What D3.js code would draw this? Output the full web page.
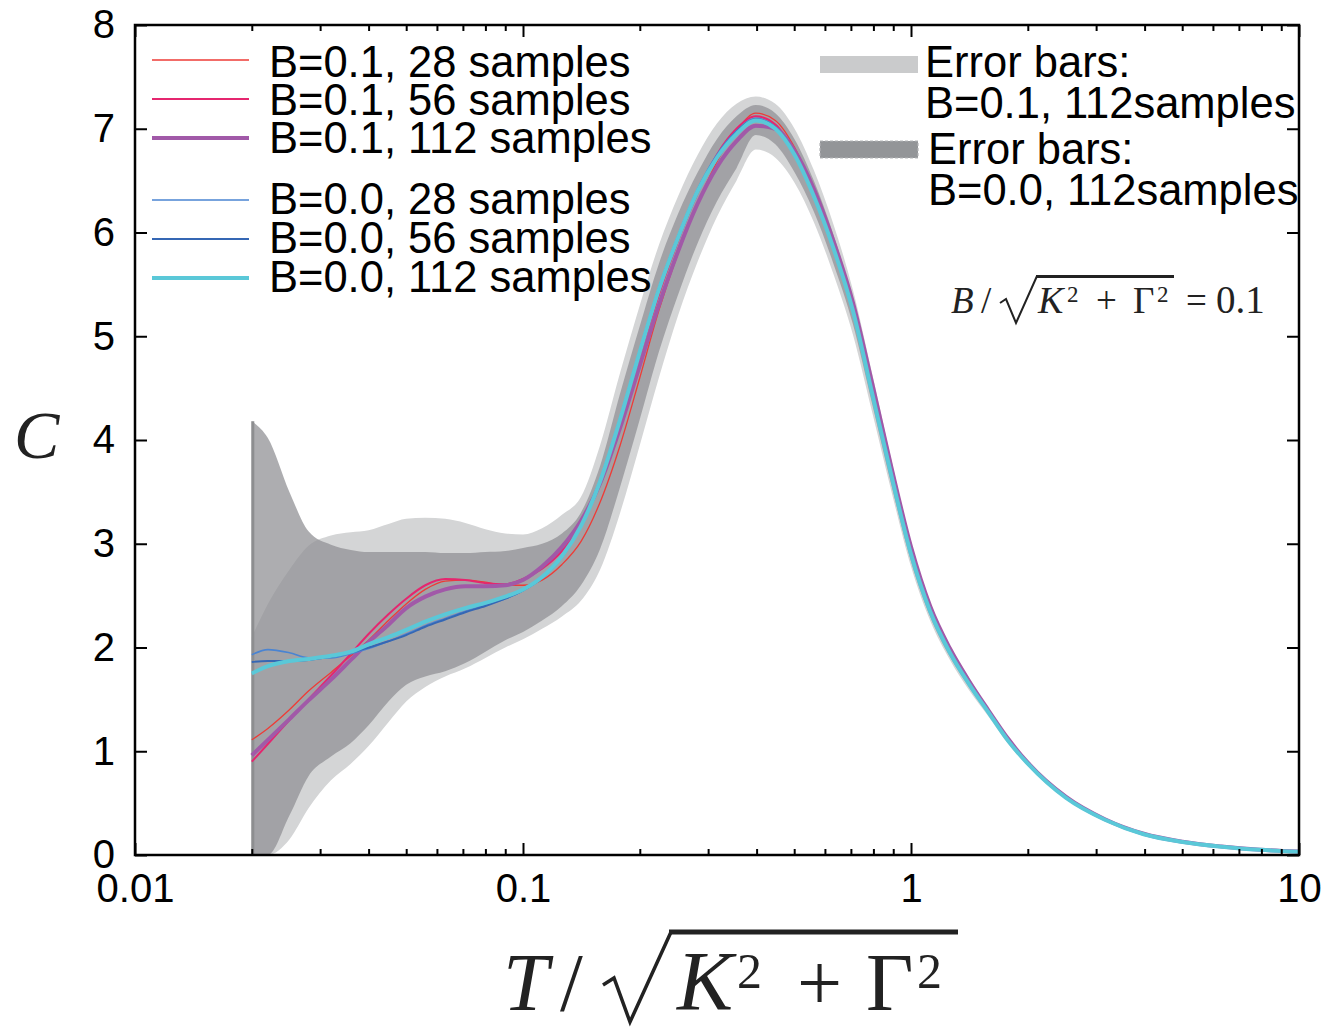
<!DOCTYPE html>
<html><head><meta charset="utf-8">
<script src="https://cdn.jsdelivr.net/npm/d3@7"></script>
<style>body{margin:0;background:#fff}</style>
</head><body>
<svg id="c" width="1332" height="1027"></svg>
<script>
// ---------------- DATA ----------------
const xGrid = [0.02,0.022,0.025,0.028,0.032,0.036,0.04,0.045,0.05,0.056,0.063,0.071,0.08,0.09,0.1,0.112,0.126,0.141,0.158,0.178,0.2,0.224,0.251,0.282,0.316,0.355,0.398,0.447,0.501,0.562,0.631,0.708,0.794,0.891,1.0,1.12,1.26,1.41,1.58,1.78,2.0,2.51,3.16,3.98,5.01,6.31,7.94,10];

const b01_28  = [1.11,1.22,1.40,1.58,1.76,1.92,2.07,2.26,2.42,2.56,2.64,2.65,2.63,2.60,2.60,2.65,2.80,3.02,3.40,3.95,4.60,5.25,5.80,6.28,6.68,6.98,7.15,7.08,6.82,6.40,5.88,5.27,4.47,3.67,2.91,2.36,1.96,1.66,1.39,1.11,0.88,0.55,0.34,0.20,0.125,0.08,0.05,0.032];
const b01_56  = [0.90,1.07,1.30,1.50,1.73,1.94,2.13,2.32,2.47,2.60,2.66,2.65,2.62,2.61,2.66,2.76,2.93,3.18,3.58,4.15,4.80,5.40,5.92,6.38,6.75,7.00,7.12,7.04,6.78,6.38,5.87,5.27,4.47,3.67,2.91,2.36,1.96,1.66,1.39,1.11,0.88,0.55,0.34,0.20,0.125,0.08,0.05,0.032];
const b01_112 = [0.96,1.11,1.31,1.49,1.69,1.88,2.05,2.22,2.38,2.49,2.56,2.59,2.59,2.60,2.65,2.78,2.97,3.22,3.58,4.12,4.72,5.30,5.82,6.28,6.63,6.88,7.03,7.00,6.79,6.42,5.92,5.33,4.55,3.73,2.97,2.40,1.99,1.68,1.40,1.12,0.89,0.56,0.345,0.205,0.128,0.082,0.051,0.033];
const b00_28  = [1.93,1.98,1.95,1.90,1.90,1.94,1.99,2.06,2.13,2.21,2.28,2.35,2.41,2.47,2.55,2.67,2.88,3.18,3.62,4.22,4.87,5.47,5.97,6.42,6.75,6.98,7.10,7.02,6.77,6.36,5.86,5.26,4.46,3.66,2.91,2.35,1.95,1.65,1.38,1.10,0.88,0.55,0.34,0.20,0.125,0.08,0.05,0.032];
const b00_56  = [1.86,1.87,1.87,1.88,1.91,1.95,2.00,2.06,2.12,2.20,2.27,2.34,2.40,2.47,2.55,2.67,2.87,3.17,3.60,4.21,4.86,5.46,5.96,6.41,6.73,6.97,7.09,7.01,6.76,6.36,5.86,5.26,4.46,3.66,2.91,2.35,1.95,1.65,1.38,1.10,0.88,0.55,0.34,0.20,0.125,0.08,0.05,0.032];
const b00_112 = [1.75,1.82,1.87,1.89,1.92,1.96,2.03,2.10,2.17,2.25,2.32,2.38,2.43,2.49,2.56,2.68,2.88,3.17,3.60,4.20,4.85,5.45,5.95,6.40,6.72,6.95,7.08,7.00,6.75,6.35,5.85,5.25,4.45,3.65,2.90,2.35,1.95,1.65,1.38,1.10,0.88,0.55,0.34,0.20,0.125,0.08,0.05,0.032];

// error bands (112 samples)
const errB01Upper = [2.10,2.42,2.75,2.98,3.08,3.11,3.13,3.19,3.24,3.25,3.24,3.20,3.14,3.10,3.09,3.15,3.28,3.45,3.95,4.65,5.30,5.88,6.35,6.75,7.05,7.24,7.31,7.24,7.00,6.60,6.08,5.45,4.64,3.80,3.02,2.44,2.02,1.71,1.42,1.13,0.90,0.565,0.35,0.205,0.128,0.082,0.052,0.034];
const errB01Lower = [0,0,0.15,0.45,0.72,0.88,1.05,1.28,1.48,1.62,1.72,1.80,1.90,2.00,2.08,2.18,2.30,2.45,2.75,3.30,3.95,4.60,5.20,5.72,6.15,6.50,6.80,6.72,6.48,6.10,5.60,5.02,4.27,3.50,2.78,2.26,1.88,1.59,1.34,1.07,0.86,0.535,0.33,0.195,0.122,0.078,0.048,0.030];
const errB00Upper = [4.18,4.02,3.50,3.12,2.99,2.94,2.92,2.92,2.92,2.92,2.91,2.91,2.92,2.93,2.96,3.00,3.10,3.30,3.75,4.45,5.10,5.70,6.18,6.58,6.90,7.12,7.23,7.15,6.90,6.50,5.98,5.35,4.55,3.74,2.97,2.40,1.99,1.68,1.40,1.12,0.895,0.56,0.345,0.203,0.127,0.081,0.051,0.033];
const errB00Lower = [0,0,0.38,0.76,0.95,1.08,1.25,1.48,1.64,1.72,1.77,1.85,1.96,2.07,2.15,2.26,2.40,2.60,2.95,3.55,4.20,4.85,5.40,5.90,6.30,6.62,6.94,6.85,6.58,6.20,5.70,5.12,4.35,3.56,2.83,2.30,1.91,1.62,1.36,1.08,0.865,0.54,0.335,0.197,0.123,0.079,0.049,0.031];

const xMajorTicks = [0.01, 0.1, 1, 10];
const xTickLabels = ["0.01", "0.1", "1", "10"];
const yTicks = [0,1,2,3,4,5,6,7,8];
const seriesLabels = ["B=0.1, 28 samples","B=0.1, 56 samples","B=0.1, 112 samples","B=0.0, 28 samples","B=0.0, 56 samples","B=0.0, 112 samples"];
const errLabels = [["Error bars:","B=0.1, 112samples"],["Error bars:","B=0.0, 112samples"]];

// ---------------- DRAW ----------------
const svg = d3.select('#c');
const L=135, R=1299, T=25, B=855;
const x = d3.scaleLog().domain([0.01,10]).range([L,R]);
const y = d3.scaleLinear().domain([0,8]).range([B,T]);
const sans = "'Liberation Sans', Arial, Helvetica, sans-serif";
const serif = "'Liberation Serif', 'Times New Roman', serif";

svg.append('defs').append('clipPath').attr('id','clip')
  .append('rect').attr('x',L).attr('y',T).attr('width',R-L).attr('height',B-T);
const plot = svg.append('g').attr('clip-path','url(#clip)');

function bandData(up, lo){ return xGrid.map((d,i)=>({x:d, u:up[i], l:lo[i]})); }
const area = d3.area().x(d=>x(d.x)).y0(d=>y(d.l)).y1(d=>y(d.u)).curve(d3.curveMonotoneX);

plot.append('path').datum(bandData(errB01Upper, errB01Lower))
  .attr('d', area).attr('fill','#d4d5d6');
plot.append('path').datum(bandData(errB00Upper, errB00Lower))
  .attr('d', area).attr('fill','rgb(144,145,148)').attr('fill-opacity',0.74);
// dark left edge of the B=0.0 band
plot.append('line')
  .attr('x1',x(xGrid[0])+1).attr('x2',x(xGrid[0])+1)
  .attr('y1',y(errB00Lower[0])).attr('y2',y(errB00Upper[0]))
  .attr('stroke','#8d8e90').attr('stroke-width',3);

const series = [
  {v:b01_28,  c:'#ee3b36', w:1.3},
  {v:b01_56,  c:'#e5266f', w:2.0},
  {v:b01_112, c:'#a159a8', w:4.0},
  {v:b00_28,  c:'#4a84d2', w:1.6},
  {v:b00_56,  c:'#3567b4', w:1.9},
  {v:b00_112, c:'#5ac8d8', w:4.0}
];
const line = d3.line().x(d=>x(d[0])).y(d=>y(d[1])).curve(d3.curveMonotoneX);
series.forEach(s=>{
  plot.append('path').datum(xGrid.map((d,i)=>[d,s.v[i]]))
    .attr('d',line).attr('fill','none').attr('stroke',s.c).attr('stroke-width',s.w)
    .attr('stroke-linejoin','round');
});

// ---------------- AXES ----------------
const minorTicks = [];
[0.01,0.1,1].forEach(dec=>{ for(let k=2;k<=9;k++) minorTicks.push(dec*k); });

function styleAxis(g){
  g.select('.domain').remove();
  g.selectAll('line').attr('stroke','#000').attr('stroke-width',2);
  g.selectAll('text').attr('font-family',sans).attr('font-size',40).attr('fill','#000');
}
svg.append('g').attr('transform',`translate(0,${B})`)
  .call(d3.axisBottom(x).tickValues(xMajorTicks).tickFormat((d,i)=>xTickLabels[i]).tickSize(-12).tickPadding(19))
  .call(styleAxis);
svg.append('g').attr('transform',`translate(0,${B})`)
  .call(d3.axisBottom(x).tickValues(minorTicks).tickFormat('').tickSize(-6)).call(styleAxis);
svg.append('g').attr('transform',`translate(0,${T})`)
  .call(d3.axisTop(x).tickValues(xMajorTicks).tickFormat('').tickSize(-12)).call(styleAxis);
svg.append('g').attr('transform',`translate(0,${T})`)
  .call(d3.axisTop(x).tickValues(minorTicks).tickFormat('').tickSize(-6)).call(styleAxis);
svg.append('g').attr('transform',`translate(${L},0)`)
  .call(d3.axisLeft(y).tickValues(yTicks).tickFormat(d3.format('d')).tickSize(-12).tickPadding(20))
  .call(styleAxis);
svg.append('g').attr('transform',`translate(${R},0)`)
  .call(d3.axisRight(y).tickValues(yTicks).tickFormat('').tickSize(-12)).call(styleAxis);

svg.append('rect').attr('x',L).attr('y',T).attr('width',R-L).attr('height',B-T)
  .attr('fill','none').attr('stroke','#000').attr('stroke-width',2.5);

// ---------------- LEGEND ----------------
const legY = [60,99,138,200,239,278];
const legBase = [77,115,153,214,253,292];
series.forEach((s,i)=>{
  svg.append('line').attr('x1',152).attr('x2',249).attr('y1',legY[i]).attr('y2',legY[i])
    .attr('stroke',s.c).attr('stroke-width',Math.max(s.w,1.3));
  svg.append('text').attr('x',269).attr('y',legBase[i]).attr('font-family',sans)
    .attr('font-size',43.5).attr('fill','#000').text(seriesLabels[i]);
});
svg.append('rect').attr('x',820).attr('y',56).attr('width',98).attr('height',17).attr('fill','#cacbcc');
svg.append('rect').attr('x',820).attr('y',141).attr('width',98).attr('height',17).attr('fill','#939598')
  .attr('stroke','#b4b5b7').attr('stroke-width',1.2).attr('stroke-dasharray','3,2');
const errPos = [[925,77,118],[928,164,205]];
errLabels.forEach((lab,i)=>{
  svg.append('text').attr('x',errPos[i][0]).attr('y',errPos[i][1]).attr('font-family',sans)
    .attr('font-size',43.5).text(lab[0]);
  svg.append('text').attr('x',errPos[i][0]).attr('y',errPos[i][2]).attr('font-family',sans)
    .attr('font-size',43.5).text(lab[1]);
});

// ---------------- MATH TEXT ----------------
function piece(txt, px, py, size, italic){
  svg.append('text').attr('x',px).attr('y',py).attr('font-family',serif)
    .attr('font-size',size).attr('font-style',italic?'italic':'normal').attr('fill','#222').text(txt);
}
// annotation B/sqrt(K^2+Gamma^2) = 0.1
piece('B',951,313,37,true);
piece('/',981,313,37,false);
svg.append('path').attr('d','M1000,303 L1006,299 L1016,323 L1037,276')
  .attr('fill','none').attr('stroke','#222').attr('stroke-width',2);
svg.append('line').attr('x1',1036).attr('x2',1174).attr('y1',276.5).attr('y2',276.5)
  .attr('stroke','#222').attr('stroke-width',3);
piece('K',1038,313,38,true);
piece('2',1067,302,23,false);
piece('+',1096,313,37,false);
piece('Γ',1133,313,37,false);
piece('2',1157,302,23,false);
piece('=',1186,313,37,false);
piece('0.1',1216,313,39,false);

// y label
piece('C',14,458,68,true);

// x label T/sqrt(K^2+Gamma^2)
piece('T',503,1010,82,true);
piece('/',560,1010,82,false);
svg.append('path').attr('d','M603,985 L614,978 L630,1022 L671,932')
  .attr('fill','none').attr('stroke','#222').attr('stroke-width',3.5);
svg.append('line').attr('x1',669).attr('x2',958).attr('y1',932).attr('y2',932)
  .attr('stroke','#222').attr('stroke-width',5);
piece('K',677,1010,84,true);
piece('2',737,988,50,false);
piece('+',797,1010,80,false);
piece('Γ',866,1010,82,false);
piece('2',917,988,50,false);
</script>
</body></html>
